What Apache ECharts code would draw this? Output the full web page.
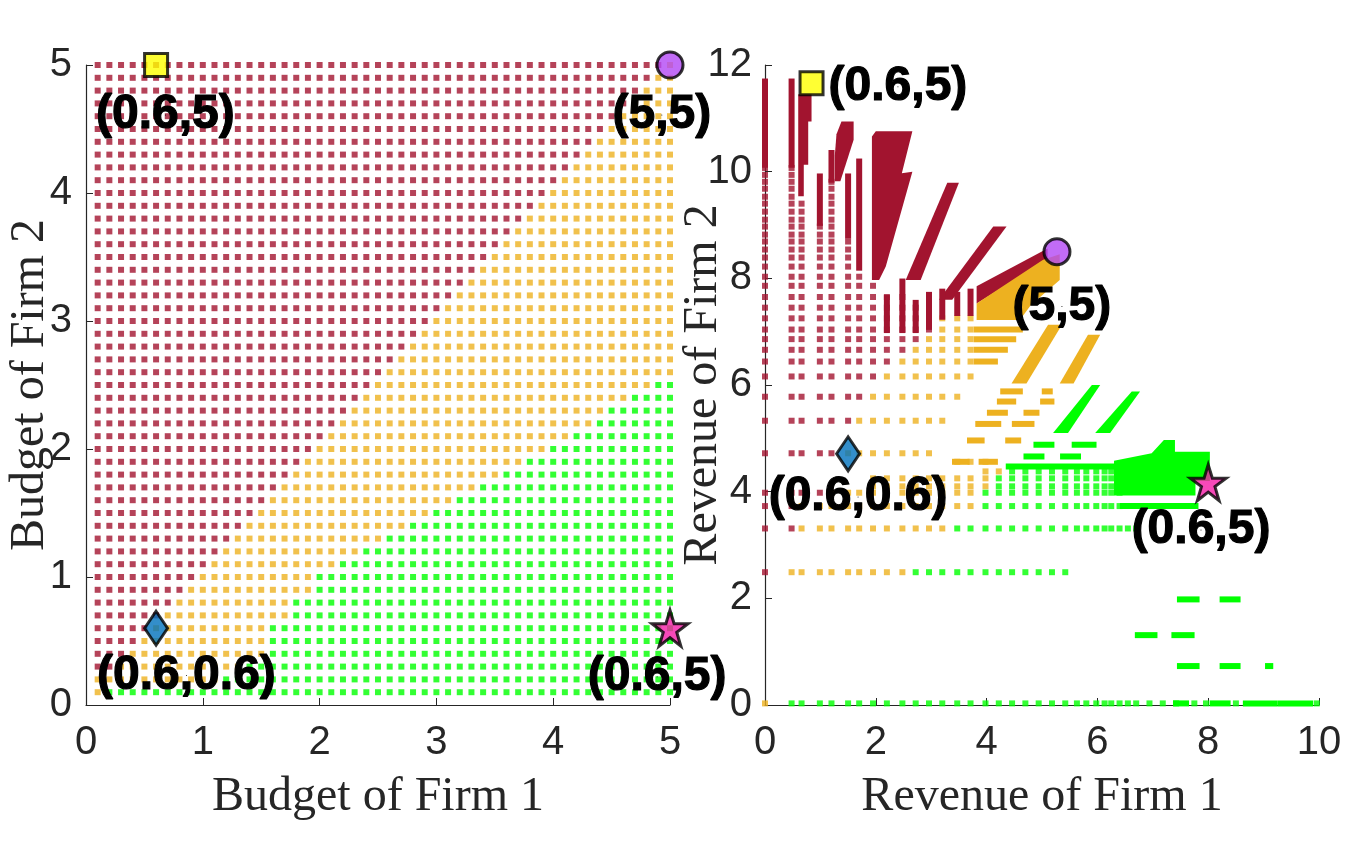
<!DOCTYPE html>
<html>
<head>
<meta charset="utf-8">
<script src="https://cdn.jsdelivr.net/npm/echarts@6.0.0/dist/echarts.min.js"></script>
<style>
  html, body { margin: 0; padding: 0; background: #fff; }
  #chart { width: 1349px; height: 867px; }
</style>
</head>
<body>
<div id="chart"></div>
<script>
// ---- left panel: budget grid ----
const budgetLevels = [0.1, 0.2, 0.3, 0.4, 0.5, 0.6, 0.7, 0.8, 0.9, 1.0,
  1.1, 1.2, 1.3, 1.4, 1.5, 1.6, 1.7, 1.8, 1.9, 2.0,
  2.1, 2.2, 2.3, 2.4, 2.5, 2.6, 2.7, 2.8, 2.9, 3.0,
  3.1, 3.2, 3.3, 3.4, 3.5, 3.6, 3.7, 3.8, 3.9, 4.0,
  4.1, 4.2, 4.3, 4.4, 4.5, 4.6, 4.7, 4.8, 4.9, 5.0];
// per row (budget of firm 2): last budget of firm 1 that is red
const redEnd = [0, 0, 0.2, 0.3, 0.4, 0.5, 0.6, 0.7, 0.8, 0.9,
  1.0, 1.1, 1.2, 1.3, 1.4, 1.5, 1.6, 1.7, 1.8, 1.9,
  2.0, 2.1, 2.2, 2.3, 2.4, 2.5, 2.6, 2.7, 2.8, 2.9,
  3.0, 3.1, 3.2, 3.3, 3.4, 3.5, 3.6, 3.7, 3.8, 3.9,
  4.0, 4.1, 4.2, 4.3, 4.4, 4.5, 4.6, 4.7, 4.8, 4.9];
// per row: first budget of firm 1 that is green (9 = none)
const greenStart = [0.2, 1.2, 1.4, 1.6, 1.6, 1.6, 1.8, 1.8, 2.0, 2.0,
  2.2, 2.4, 2.6, 2.8, 3.0, 3.2, 3.4, 3.6, 3.8, 4.0,
  4.2, 4.4, 4.5, 4.7, 4.9, 9, 9, 9, 9, 9,
  9, 9, 9, 9, 9, 9, 9, 9, 9, 9,
  9, 9, 9, 9, 9, 9, 9, 9, 9, 9];

// ---- right panel: revenue points ----
const revCols = [0, 0.48, 0.66, 0.99, 1.2, 1.5, 1.7, 1.95, 2.2, 2.48, 2.72, 2.96, 3.2, 3.47, 3.71,
  3.98, 4.22, 4.46, 4.7, 4.94, 5.18, 5.42, 5.63, 5.8, 5.98, 6.13, 6.25, 6.4, 6.55, 6.7,
  6.94, 7.18, 7.42, 7.75, 7.96, 8.5, 9.96];
const colTop = [10.07, 10.07, 9.40, 8.97, 9.81, 8.69, 8.03, 7.86, 7.65, 7.65, 7.45, 7.45, 7.25, 7.25, 7.25,
  12, 12, 12, 12, 12, 12, 12, 12, 12, 12, 12, 12, 12, 12, 12,
  12, 12, 12, 12, 12, 12, 12];
const revRows = [10.07, 9.94, 9.81, 9.68, 9.53, 9.40, 9.25, 9.10, 8.97, 8.82, 8.69, 8.54, 8.39, 8.22, 8.03,
  7.86, 7.65, 7.45, 7.25, 7.04, 6.86, 6.66, 6.44, 6.16, 5.78, 5.33, 4.72, 4.56, 4.38, 4.25,
  4.10, 3.98, 3.73, 3.31, 2.49, 0.03];
const rowFrom = [0, 0, 0, 0, 0, 0, 0, 0, 0, 0, 0, 0, 0, 0, 0,
  0, 0, 0, 0, 0, 0, 0, 0, 0, 0, 0, 0, 3.4, 3.9, 1.9,
  1.9, 0, 0, 0, 0, 0];
const rowRedTo = [1.2, 1.2, 1.2, 1.2, 1.2, 1.2, 1.7, 1.7, 1.7, 1.7, 1.7, 1.7, 1.7, 1.7, 1.7,
  1.95, 2.48, 3.71, 2.96, 2.96, 2.72, 2.48, 2.2, 1.95, 1.7, 1.5, 1.2, -1, -1, -1,
  -1, 0.99, 0.48, 0.48, 0, -1];
const rowOrangeTo = [-1, -1, -1, -1, -1, -1, -1, -1, -1, -1, -1, -1, -1, -1, -1,
  -1, -1, -1, 3.71, 3.71, 3.71, 3.71, 3.71, 3.8, 3.5, 3.2, 2.96, 4.2, 4.3, 3.98,
  3.98, 3.71, 3.71, 3.2, 2.48, 0];
const rowGreenTo = [-1, -1, -1, -1, -1, -1, -1, -1, -1, -1, -1, -1, -1, -1, -1,
  -1, -1, -1, -1, -1, -1, -1, -1, -1, -1, -1, -1, -1, 6.4, 6.4,
  6.4, 6.4, 6.4, 6.7, 5.44, 10];

// solid vertical red runs [x, yFrom, yTo]
const redSticks = [[0, 10.13, 11.69], [0.48, 10.13, 11.69], [0.99, 9.04, 9.91], [1.2, 9.85, 10.35],
  [1.5, 8.8, 9.91], [1.7, 8.2, 10.19], [2.2, 7.03, 7.63], [2.48, 7.03, 7.94], [2.72, 7.03, 7.54],
  [2.96, 7.09, 7.69], [3.2, 7.28, 7.75], [3.47, 7.35, 7.69], [3.71, 7.35, 7.75]];
// solid horizontal runs [xFrom, xTo, y]
const orangeBars = [[3.82, 4.6, 7.04], [3.82, 4.48, 6.86], [3.82, 4.33, 6.66], [3.82, 4.15, 6.44],
  [4.3, 4.6, 5.88], [5.05, 5.14, 5.88], [4.24, 4.48, 5.69], [5.02, 5.17, 5.69],
  [4.06, 4.33, 5.48], [4.72, 4.9, 5.48], [3.85, 4.21, 5.27], [4.51, 4.81, 5.27],
  [3.7, 3.91, 4.96], [4.39, 4.57, 4.96], [3.43, 3.64, 4.56], [3.91, 4.15, 4.56]];
const greenBars = [[4.72, 4.99, 4.66], [4.9, 5.17, 4.88], [5.38, 5.65, 4.66], [5.59, 5.93, 4.88],
  [4.4, 6.3, 4.47], [6.46, 7.77, 3.73],
  [7.49, 7.79, 1.98], [8.26, 8.53, 1.98], [6.73, 7.03, 1.31], [7.39, 7.7, 1.31],
  [7.49, 7.79, 0.73], [8.26, 8.53, 0.73], [9.08, 9.12, 0.73],
  [7.42, 7.6, 0.03], [8.08, 8.35, 0.03], [8.68, 9.19, 0.03], [9.3, 9.84, 0.03]];
// filled bands (vertex lists in revenue units)
const redBands = [
  [[0.6, 11.45], [0.84, 11.45], [0.84, 10.94], [0.78, 10.94], [0.78, 10.13], [0.7, 10.13], [0.7, 9.54], [0.6, 9.54]],
  [[1.26, 9.82], [1.36, 9.82], [1.6, 10.6], [1.6, 10.94], [1.38, 10.94], [1.29, 10.7], [1.26, 10.3]],
  [[1.93, 7.97], [2.06, 7.97], [2.18, 8.22], [2.66, 10.0], [2.47, 9.97], [2.66, 10.76], [2.0, 10.76], [1.93, 10.66]],
  [[2.54, 7.97], [2.81, 7.97], [3.5, 9.79], [3.29, 9.79]],
  [[3.14, 7.6], [3.38, 7.6], [4.36, 8.97], [4.12, 8.97]],
  [[3.82, 7.53], [3.82, 7.85], [5.1, 8.56], [5.1, 8.35]]
];
const orangeBands = [
  [[3.82, 7.22], [3.82, 7.53], [5.02, 8.35], [5.32, 8.45], [5.32, 7.97], [4.8, 7.5], [4.6, 7.22]],
  [[4.45, 6.03], [4.72, 6.03], [5.36, 7.13], [5.11, 7.13]],
  [[5.32, 6.03], [5.57, 6.03], [6.05, 6.94], [5.83, 6.94]]
];
const greenBands = [
  [[5.2, 5.1], [5.47, 5.1], [6.05, 6.0], [5.9, 6.0]],
  [[5.96, 5.1], [6.23, 5.1], [6.77, 5.88], [6.62, 5.88]],
  [[6.3, 3.93], [7.77, 3.93], [7.77, 4.2], [8.03, 4.2], [8.03, 4.75], [7.4, 4.75], [7.4, 4.97],
    [7.2, 4.97], [6.98, 4.72], [6.3, 4.58]]
];

// highlighted cases and their captions
const leftMarks = [[0.6, 5], [5, 5], [0.6, 0.6], [5, 0.6]];
const rightMarks = [[0.84, 11.66], [5.27, 8.5], [1.5, 4.71], [8.0, 4.17]];
const leftNotes = [[0.68, 4.61, '(0.6,5)'], [4.93, 4.61, '(5,5)'], [0.86, 0.23, '(0.6,0.6)'], [4.89, 0.22, '(0.6,5)']];
const rightNotes = [[2.4, 11.59, '(0.6,5)'], [5.36, 7.47, '(5,5)'], [1.68, 3.9, '(0.6,0.6)'], [7.87, 3.28, '(0.6,5)']];

const RED = '#A2142F', ORANGE = '#EDB120', GREEN = '#00FF00';
const EPS = 1e-6;
const DOT = 6;

const leftPts = { red: [], orange: [], green: [] };
budgetLevels.forEach((b2, r) => {
  budgetLevels.forEach(b1 => {
    if (b1 <= redEnd[r] + EPS) leftPts.red.push([b1, b2]);
    else if (b1 < greenStart[r] - EPS) leftPts.orange.push([b1, b2]);
    else leftPts.green.push([b1, b2]);
  });
});

const revPts = { red: [], orange: [], green: [] };
revRows.forEach((y, r) => {
  revCols.forEach((x, c) => {
    if (x < rowFrom[r] - EPS || y > colTop[c] + EPS) return;
    if (x <= rowRedTo[r] + EPS) revPts.red.push([x, y]);
    else if (x <= rowOrangeTo[r] + EPS) revPts.orange.push([x, y]);
    else if (x <= rowGreenTo[r] + EPS) revPts.green.push([x, y]);
  });
});

function dots(idx, data, color) {
  return {
    type: 'scatter', xAxisIndex: idx, yAxisIndex: idx, silent: true, z: 2,
    symbol: 'rect', symbolSize: DOT, itemStyle: { color: color }, data: data
  };
}

function bands(polys, color) {
  return {
    type: 'custom', xAxisIndex: 1, yAxisIndex: 1, silent: true, z: 3,
    data: polys.map((p, i) => [p[0][0], p[0][1], i]),
    renderItem: (params, api) => ({
      type: 'polygon',
      shape: { points: polys[params.dataIndex].map(v => api.coord(v)) },
      style: { fill: color }
    })
  };
}

// segments given as [x1, y1, x2, y2]
function runs(segs, color) {
  return {
    type: 'custom', xAxisIndex: 1, yAxisIndex: 1, silent: true, z: 3,
    data: segs.map((s, i) => [s[0], s[1], i]),
    renderItem: (params, api) => {
      const s = segs[params.dataIndex];
      const a = api.coord([s[0], s[1]]), b = api.coord([s[2], s[3]]);
      return {
        type: 'line',
        shape: { x1: a[0], y1: a[1], x2: b[0], y2: b[1] },
        style: { stroke: color, lineWidth: DOT, lineCap: 'square' }
      };
    }
  };
}

const starPath = 'path://M50,2 L61,37 L98,37 L68,59 L79,95 L50,73 L21,95 L32,59 L2,37 L39,37 Z';
const markStyles = [
  { symbol: 'rect', size: 23, color: '#FFFF00' },
  { symbol: 'circle', size: 26, color: '#B347F5' },
  { symbol: 'diamond', size: [23, 34], color: '#0072BD' },
  { symbol: starPath, size: 36, color: '#F51BA7' }
];

function marks(idx, pts) {
  return pts.map((p, i) => ({
    type: 'scatter', xAxisIndex: idx, yAxisIndex: idx, silent: true, clip: false, z: 5,
    symbol: markStyles[i].symbol, symbolSize: markStyles[i].size,
    itemStyle: { color: markStyles[i].color, borderColor: '#000', borderWidth: 3 },
    data: [p]
  }));
}

function notes(idx, items) {
  return {
    type: 'scatter', xAxisIndex: idx, yAxisIndex: idx, silent: true, clip: false, z: 6,
    symbolSize: 1, itemStyle: { color: '#000', opacity: 1 },
    label: {
      show: true, position: 'inside', formatter: p => p.data.name,
      fontFamily: 'Liberation Sans', fontWeight: 'bold', fontSize: 48, color: '#000',
      textBorderColor: '#000', textBorderWidth: 1.2, opacity: 1
    },
    data: items.map(t => ({ name: t[2], value: [t[0], t[1]] }))
  };
}

function axis(extra, margin) {
  return Object.assign({
    type: 'value',
    nameLocation: 'middle',
    nameMoveOverlap: false,
    nameTextStyle: { fontFamily: 'Liberation Serif', fontSize: 48, color: '#262626' },
    axisLine: { show: true, onZero: false, lineStyle: { color: '#262626', width: 1.2 } },
    axisTick: { show: true, inside: true, length: 7, lineStyle: { color: '#262626' } },
    axisLabel: { color: '#262626', fontSize: 40, fontFamily: 'Liberation Sans', margin: margin },
    splitLine: { show: false }
  }, extra);
}

const chart = echarts.init(document.getElementById('chart'));
chart.setOption({
  animation: false,
  backgroundColor: '#fff',
  grid: [
    { left: 86, top: 65, width: 584, height: 640 },
    { left: 765, top: 65, width: 554, height: 640 }
  ],
  xAxis: [
    axis({ gridIndex: 0, min: 0, max: 5, interval: 1, name: 'Budget of Firm 1', nameGap: 68 }, 18),
    axis({ gridIndex: 1, min: 0, max: 10, interval: 2, name: 'Revenue of Firm 1', nameGap: 68 }, 18)
  ],
  yAxis: [
    axis({ gridIndex: 0, min: 0, max: 5, interval: 1, name: 'Budget of Firm 2', nameGap: 32 }, 14),
    axis({ gridIndex: 1, min: 0, max: 12, interval: 2, name: 'Revenue of Firm 2', nameGap: 38 }, 13)
  ],
  series: [
    dots(0, leftPts.red, RED),
    dots(0, leftPts.orange, ORANGE),
    dots(0, leftPts.green, GREEN),
    dots(1, revPts.red, RED),
    dots(1, revPts.orange, ORANGE),
    dots(1, revPts.green, GREEN),
    bands(redBands, RED),
    bands(orangeBands, ORANGE),
    bands(greenBands, GREEN),
    runs(redSticks.map(s => [s[0], s[1], s[0], s[2]]), RED),
    runs(orangeBars.map(s => [s[0], s[2], s[1], s[2]]), ORANGE),
    runs(greenBars.map(s => [s[0], s[2], s[1], s[2]]), GREEN),
    ...marks(0, leftMarks),
    ...marks(1, rightMarks),
    notes(0, leftNotes),
    notes(1, rightNotes)
  ]
});
</script>
</body>
</html>
